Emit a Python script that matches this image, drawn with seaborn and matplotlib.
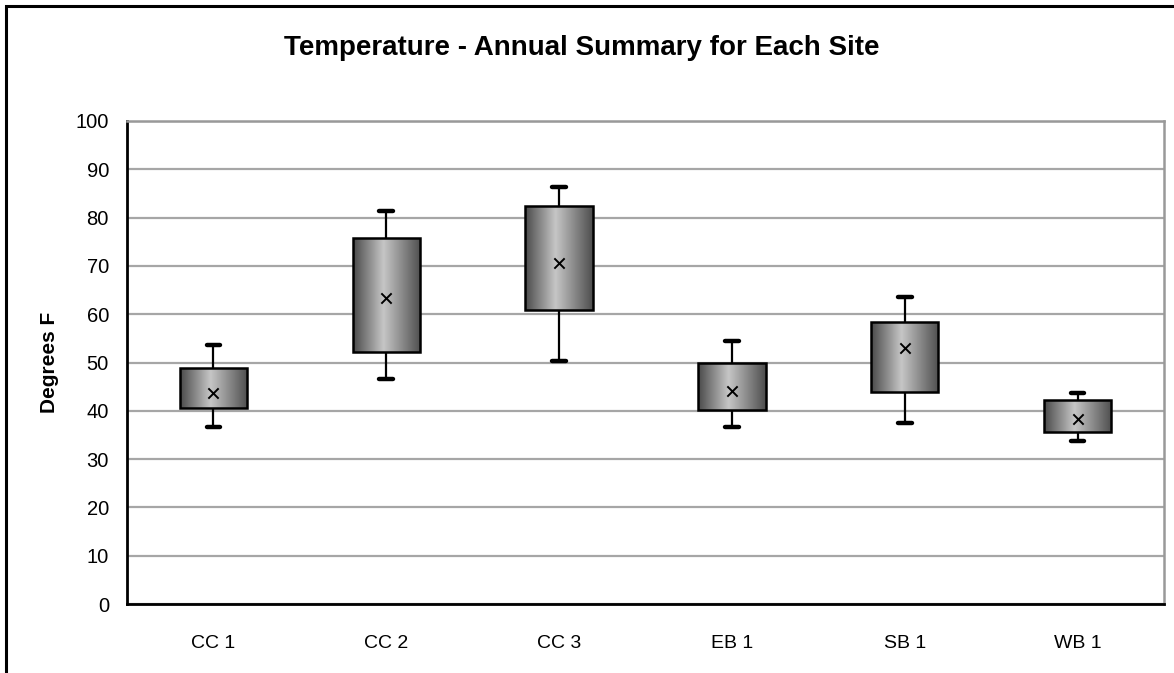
import numpy as np
import pandas as pd
import matplotlib
matplotlib.use("Agg")
import matplotlib.pyplot as plt
import seaborn as sns
from matplotlib.colors import LinearSegmentedColormap
from matplotlib.patches import Rectangle

# values (Degrees F)
sites = ["CC 1", "CC 2", "CC 3", "EB 1", "SB 1", "WB 1"]
whisker_low = [36.6, 46.5, 50.3, 36.6, 37.5, 33.7]
box_low = [40.6, 52.2, 60.8, 40.2, 43.8, 35.6]
means = [43.6, 63.4, 70.5, 44.0, 53.1, 38.2]
box_high = [48.8, 75.8, 82.3, 50.0, 58.4, 42.2]
whisker_high = [53.6, 81.4, 86.3, 54.5, 63.6, 43.6]

# five values per site give exactly these quartiles / extremes
rows = []
for i, s in enumerate(sites):
    for v in (whisker_low[i], box_low[i], means[i], box_high[i], whisker_high[i]):
        rows.append({"Site": s, "Temp": v})
data = pd.DataFrame(rows)

sns.set_style("white")
plt.rcParams["font.family"] = ["Liberation Sans", "DejaVu Sans"]
plt.rcParams.update({"text.color": "black", "axes.labelcolor": "black",
                     "xtick.color": "black", "ytick.color": "black"})

fig = plt.figure(figsize=(11.74, 6.73), dpi=100)
ax = fig.add_axes([127 / 1174, 69 / 673, 1037 / 1174, 483 / 673])

a = sns.boxplot(x="Site", y="Temp", data=data, order=sites, whis=np.inf, width=0.39,
                color="#888888", linecolor="black", linewidth=1.8, ax=ax,
                medianprops={"visible": False},
                whiskerprops={"linewidth": 1.6},
                capprops={"linewidth": 3.2},
                capwidths=0.08)

# horizontal gray gradient inside each box
grad = LinearSegmentedColormap.from_list("g", [(0, "#4a4a4a"), (0.45, "#c6c6c6"), (1, "#4e4e4e")])
for p in list(ax.patches):
    ext = p.get_path().get_extents()
    img = ax.imshow(np.linspace(0, 1, 256).reshape(1, -1), cmap=grad, aspect="auto",
                    extent=[ext.x0, ext.x1, ext.y0, ext.y1], zorder=p.get_zorder() + 0.05)
    img.set_clip_path(p)
    p.set_facecolor("none")
    p.set_zorder(p.get_zorder() + 0.1)

sns.scatterplot(x=sites, y=means, marker="x", color="black", s=55, linewidth=1.4,
                zorder=5, ax=ax)

ax.set_xlim(-0.5, 5.5)
ax.set_ylim(0, 100)
ax.set_yticks(range(0, 101, 10))
ax.yaxis.grid(True, color="#a6a6a6", linewidth=1.6)
ax.set_axisbelow(True)

ax.set_xticks(np.arange(-0.5, 6, 1))
ax.set_xticklabels([])
ax.set_xticks(range(len(sites)), minor=True)
ax.set_xticklabels(sites, minor=True)
ax.tick_params(axis="x", which="major", direction="out", length=6, width=1.5, color="black")
ax.tick_params(axis="x", which="minor", length=0, pad=22, labelsize=14)
ax.tick_params(axis="y", direction="out", length=7, width=1.5, color="black", labelsize=14.5, pad=6)

for side in ["left", "bottom"]:
    ax.spines[side].set_color("black")
    ax.spines[side].set_linewidth(2)
for side in ["top", "right"]:
    ax.spines[side].set_color("#999999")
    ax.spines[side].set_linewidth(1.8)

ax.set_xlabel("")
ax.set_ylabel("Degrees F", fontsize=15, fontweight="bold", labelpad=12)
fig.text(582 / 1174, 1 - 48 / 673, "Temperature - Annual Summary for Each Site",
         ha="center", va="center", fontsize=20, fontweight="bold")

fig.patches.append(Rectangle((6 / 1174, -0.1), 1.2, 1.1 - 6 / 673, transform=fig.transFigure,
                             fill=False, edgecolor="black", linewidth=2.2))

plt.savefig("out.png", dpi=100)
